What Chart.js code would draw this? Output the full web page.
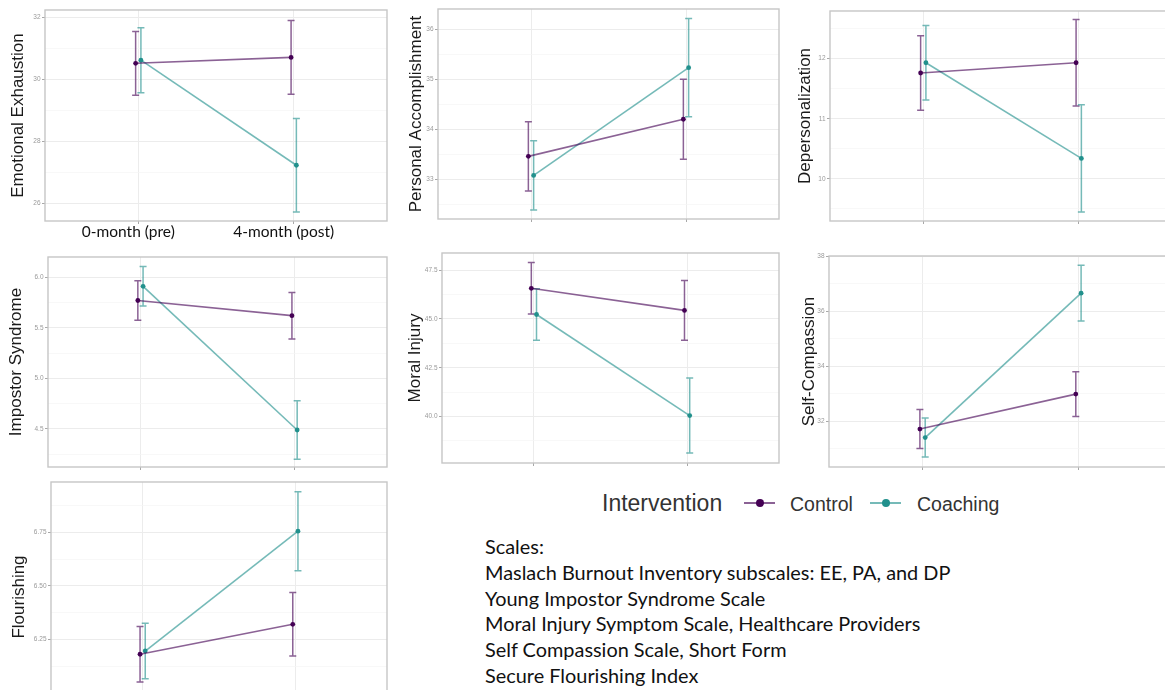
<!DOCTYPE html>
<html>
<head>
<meta charset="utf-8">
<script src="https://cdn.jsdelivr.net/npm/chart.js@4/dist/chart.umd.min.js"></script>
<style>
  html, body { margin: 0; padding: 0; background: #fff; }
  body { width: 1165px; height: 690px; overflow: hidden; position: relative; }
  canvas { position: absolute; }
  #legend { position: absolute; left: 602px; top: 488px; height: 30px; white-space: nowrap;
            font-family: "Liberation Sans", Arial, sans-serif; color: #333; }
  #legend .title { position: absolute; left: 0; top: 0; font-size: 23px; line-height: 30px; }
  #legend .lab { position: absolute; top: 2px; font-size: 19.5px; line-height: 28px; }
  #legend .key { position: absolute; top: 14px; width: 31px; height: 2px; }
  #legend .key i { position: absolute; left: 12px; top: -3px; width: 8px; height: 8px; border-radius: 50%; }
  #scales { position: absolute; left: 485px; top: 534px; font-family: Lato, "Open Sans", sans-serif;
            font-size: 19.9px; line-height: 25.8px; color: #111; white-space: nowrap; }
</style>
</head>
<body>
<div id="legend"></div>
<div id="scales"></div>
<script>
// Time points and groups
const timepoints = ['0-month (pre)', '4-month (post)'];
const groups = ['Control', 'Coaching'];

// Group means [pre, post] and standard errors [pre, post]
const eeControl = [30.51, 30.70];
const eeControlSE = [1.03, 1.19];
const eeCoaching = [30.61, 27.22];
const eeCoachingSE = [1.05, 1.51];
const eeTicks = [26, 28, 30, 32];

const paControl = [33.46, 34.20];
const paControlSE = [0.69, 0.80];
const paCoaching = [33.08, 35.23];
const paCoachingSE = [0.69, 0.98];
const paTicks = [33, 34, 35, 36];

const dpControl = [11.76, 11.93];
const dpControlSE = [0.62, 0.72];
const dpCoaching = [11.93, 10.34];
const dpCoachingSE = [0.62, 0.89];
const dpTicks = [10, 11, 12];

const isControl = [5.77, 5.62];
const isControlSE = [0.195, 0.23];
const isCoaching = [5.91, 4.49];
const isCoachingSE = [0.195, 0.29];
const isTicks = [4.5, 5.0, 5.5, 6.0];

const miControl = [46.57, 45.44];
const miControlSE = [1.32, 1.53];
const miCoaching = [45.23, 40.05];
const miCoachingSE = [1.32, 1.92];
const miTicks = [40.0, 42.5, 45.0, 47.5];

const scControl = [31.71, 32.98];
const scControlSE = [0.71, 0.81];
const scCoaching = [31.40, 36.65];
const scCoachingSE = [0.71, 1.01];
const scTicks = [32, 34, 36, 38];

const flControl = [6.18, 6.32];
const flControlSE = [0.13, 0.148];
const flCoaching = [6.195, 6.755];
const flCoachingSE = [0.13, 0.185];
const flTicks = [6.00, 6.25, 6.50, 6.75];

const scaleNotes = [
  'Scales:',
  'Maslach Burnout Inventory subscales: EE, PA, and DP',
  'Young Impostor Syndrome Scale',
  'Moral Injury Symptom Scale, Healthcare Providers',
  'Self Compassion Scale, Short Form',
  'Secure Flourishing Index'
];

// Styling
const CONTROL_POINT = '#440154';
const CONTROL_LINE = 'rgba(68,1,84,0.62)';
const COACH_POINT = '#21908C';
const COACH_LINE = 'rgba(33,144,140,0.62)';
const DODGE = 0.017;

// Panel geometry: canvas box and plot area (page pixels), y range, title
const panels = [
  { title: 'Emotional Exhaustion', ctl: eeControl, ctlSE: eeControlSE, cch: eeCoaching, cchSE: eeCoachingSE,
    ticks: eeTicks, dec: 0, yMin: 25.42, yMax: 32.23, showX: true,
    canvas: [0, 0, 391, 245], plot: [45, 10, 390, 221], titleX: 18 },
  { title: 'Personal Accomplishment', ctl: paControl, ctlSE: paControlSE, cch: paCoaching, cchSE: paCoachingSE,
    ticks: paTicks, dec: 0, yMin: 32.21, yMax: 36.40,
    canvas: [392, 0, 391, 245], plot: [438, 9, 782, 219], titleX: 416 },
  { title: 'Depersonalization', ctl: dpControl, ctlSE: dpControlSE, cch: dpCoaching, cchSE: dpCoachingSE,
    ticks: dpTicks, dec: 0, yMin: 9.30, yMax: 12.79,
    canvas: [784, 0, 392, 245], plot: [830, 11, 1172, 221], titleX: 805 },
  { title: 'Impostor Syndrome', ctl: isControl, ctlSE: isControlSE, cch: isCoaching, cchSE: isCoachingSE,
    ticks: isTicks, dec: 1, yMin: 4.124, yMax: 6.20,
    canvas: [0, 245, 391, 230], plot: [48, 257, 390, 467], titleX: 16 },
  { title: 'Moral Injury', ctl: miControl, ctlSE: miControlSE, cch: miCoaching, cchSE: miCoachingSE,
    ticks: miTicks, dec: 1, yMin: 37.62, yMax: 48.38,
    canvas: [392, 245, 391, 230], plot: [442, 253, 782, 463], titleX: 415 },
  { title: 'Self-Compassion', ctl: scControl, ctlSE: scControlSE, cch: scCoaching, cchSE: scCoachingSE,
    ticks: scTicks, dec: 0, yMin: 30.33, yMax: 38.0,
    canvas: [784, 245, 392, 230], plot: [829, 256, 1173, 467], titleX: 809 },
  { title: 'Flourishing', ctl: flControl, ctlSE: flControlSE, cch: flCoaching, cchSE: flCoachingSE,
    ticks: flTicks, dec: 2, yMin: 5.91, yMax: 6.985,
    canvas: [0, 475, 391, 250], plot: [51, 482, 390, 712], titleX: 19 }
];

// Draws mean +/- SE whiskers with caps for every dataset
const errorBars = {
  id: 'errorBars',
  beforeDatasetsDraw(chart) {
    const { ctx, scales: { x, y } } = chart;
    chart.data.datasets.forEach(ds => {
      ctx.save();
      ctx.strokeStyle = ds.borderColor;
      ctx.lineWidth = 1.5;
      ds.data.forEach((p, j) => {
        const e = ds.errors[j];
        const px = x.getPixelForValue(p.x);
        const top = y.getPixelForValue(p.y + e);
        const bot = y.getPixelForValue(p.y - e);
        ctx.beginPath();
        ctx.moveTo(px, top); ctx.lineTo(px, bot);
        ctx.moveTo(px - 3.5, top); ctx.lineTo(px + 3.5, top);
        ctx.moveTo(px - 3.5, bot); ctx.lineTo(px + 3.5, bot);
        ctx.stroke();
      });
      ctx.restore();
    });
  }
};

// Grey frame around the plotting panel
const panelBorder = {
  id: 'panelBorder',
  beforeDatasetsDraw(chart) {
    const { ctx, chartArea: a } = chart;
    ctx.save();
    ctx.strokeStyle = '#c6c6c6';
    ctx.lineWidth = 1.4;
    ctx.strokeRect(a.left, a.top, a.right - a.left, a.bottom - a.top);
    ctx.restore();
  }
};

function series(values, offset) {
  return values.map((v, i) => ({ x: i + offset, y: v }));
}

panels.forEach(p => {
  const [cl, ct, cw, chh] = p.canvas;
  const [pl, pt, pr, pb] = p.plot;
  const cv = document.createElement('canvas');
  cv.width = cw; cv.height = chh;
  cv.style.left = cl + 'px'; cv.style.top = ct + 'px';
  cv.style.width = cw + 'px'; cv.style.height = chh + 'px';
  document.body.insertBefore(cv, document.getElementById('legend'));

  const step = p.ticks[1] - p.ticks[0];
  const titleSize = 17;
  const titleOffset = p.titleX - cl - titleSize * 1.2 / 2;

  new Chart(cv, {
    type: 'line',
    data: {
      datasets: [
        { label: groups[0], data: series(p.ctl, -DODGE), errors: p.ctlSE,
          borderColor: CONTROL_LINE, borderWidth: 1.6, pointRadius: 2.4,
          pointBackgroundColor: CONTROL_POINT, pointBorderWidth: 0, fill: false },
        { label: groups[1], data: series(p.cch, DODGE), errors: p.cchSE,
          borderColor: COACH_LINE, borderWidth: 1.6, pointRadius: 2.4,
          pointBackgroundColor: COACH_POINT, pointBorderWidth: 0, fill: false }
      ]
    },
    options: {
      responsive: false,
      animation: false,
      devicePixelRatio: 1,
      layout: { padding: { top: pt - ct, right: cl + cw - pr, bottom: 0, left: 0 } },
      plugins: { legend: { display: false }, tooltip: { enabled: false } },
      scales: {
        x: {
          type: 'linear', min: -0.6, max: 1.6,
          afterBuildTicks: s => { s.ticks = [{ value: 0 }, { value: 1 }]; },
          afterFit: s => { s.height = ct + chh - pb; },
          border: { display: false },
          grid: { color: '#ececec', lineWidth: 1, tickLength: 3, tickColor: '#a8a8a8' },
          ticks: {
            autoSkip: false, maxRotation: 0, padding: -1,
            labelOffset: p.showX ? -10 : 0,
            color: '#111',
            font: { family: 'Lato, "Open Sans", sans-serif', size: 15.5 },
            callback: v => (p.showX ? timepoints[v] : '')
          }
        },
        y: {
          type: 'linear', min: p.yMin, max: p.yMax,
          afterBuildTicks: s => {
            const t = [];
            const lo = p.ticks[0] - step;
            for (let k = 0; k <= p.ticks.length; k++) {
              const major = lo + step * k;
              if (k > 0) t.push({ value: major });
              const mid = major + step / 2;
              if (mid > p.yMin && mid < p.yMax) t.push({ value: mid, minor: true });
            }
            s.ticks = t.filter(tk => tk.value >= p.yMin - 1e-9 && tk.value <= p.yMax + 1e-9);
          },
          afterFit: s => { s.width = pl - cl; },
          border: { display: false },
          grid: {
            color: c => (c.tick && c.tick.minor ? '#f5f5f5' : '#ececec'),
            lineWidth: c => (c.tick && c.tick.minor ? 0.7 : 1),
            tickLength: 3,
            tickColor: c => (c.tick && c.tick.minor ? 'rgba(0,0,0,0)' : '#a8a8a8')
          },
          ticks: {
            padding: 1.5,
            color: '#9a9a9a',
            font: { family: '"Liberation Sans", Arial, sans-serif', size: 6.5 },
            callback: function (v, i, ticks) {
              return ticks[i].minor ? '' : Number(v).toFixed(p.dec);
            }
          },
          title: {
            display: true, text: p.title, color: '#1a1a1a',
            font: { family: '"Liberation Sans Narrow", "Liberation Sans", sans-serif', size: titleSize },
            padding: { top: titleOffset, bottom: 0 }
          }
        }
      }
    },
    plugins: [panelBorder, errorBars]
  });
});

// Legend
const legend = document.getElementById('legend');
legend.innerHTML =
  '<span class="title">Intervention</span>' +
  '<span class="key" style="left:142px;background:' + CONTROL_LINE + '"><i style="background:' + CONTROL_POINT + '"></i></span>' +
  '<span class="lab" style="left:188px">' + groups[0] + '</span>' +
  '<span class="key" style="left:268px;background:' + COACH_LINE + '"><i style="background:' + COACH_POINT + '"></i></span>' +
  '<span class="lab" style="left:315px">' + groups[1] + '</span>';

// Scale notes
document.getElementById('scales').innerHTML = scaleNotes.map(s => '<div>' + s + '</div>').join('');
</script>
</body>
</html>
